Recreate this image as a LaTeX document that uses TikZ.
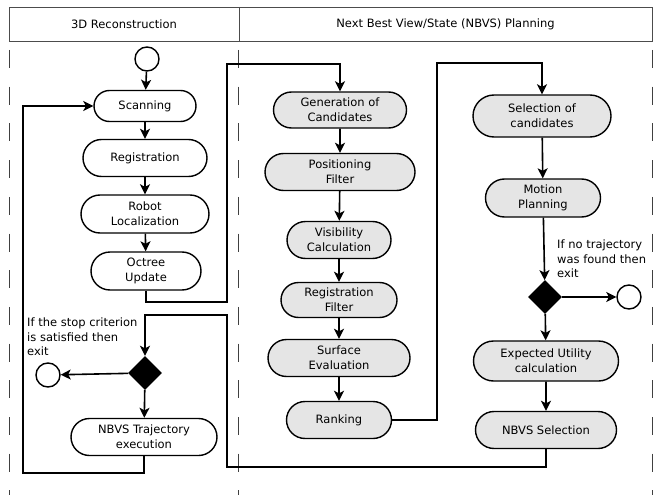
\documentclass[tikz,border=0pt]{standalone}
\usepackage{fontspec}
\setmainfont{DejaVu Sans}
\usetikzlibrary{shapes.geometric,shapes.misc,arrows.meta}
\tikzset{
  act/.style={draw, line width=1.4pt, rounded rectangle, align=center, inner sep=2pt},
  actw/.style={act, fill=white},
  actg/.style={act, fill=black!10},
  endpt/.style={draw, circle, line width=1.4pt, minimum size=24pt, inner sep=0pt, fill=white},
  choice/.style={diamond, aspect=1, fill=black, minimum width=34pt, minimum height=34pt, inner sep=0pt},
  flow/.style={line width=1.6pt, -{Stealth[length=10pt,width=10pt,inset=2.5pt]}},
  flowl/.style={line width=1.6pt},
  lane/.style={draw=black!75, line width=0.9pt, dash pattern=on 18pt off 18.7pt},
  hdr/.style={draw=black!70, line width=0.9pt},
  note/.style={align=left, inner sep=0pt, anchor=west},
  every node/.style={font=\fontsize{11.5}{14.7}\selectfont}
}
\begin{document}
\begin{tikzpicture}[x=1pt,y=-1pt]
\useasboundingbox (0,0) rectangle (664,495);
% header
\draw[hdr] (9,7) rectangle (652,41);
\draw[hdr] (239,7) -- (239,41);
\node (h1) at (124,24) {3D Reconstruction};
\node (h2) at (445.5,24) {Next Best View/State (NBVS) Planning};
% lanes
\draw[lane] (9,50) -- (9,495);
\draw[lane] (238,50) -- (238,495);
\draw[lane] (652,50) -- (652,495);
% left column
\node[endpt] (start) at (147,59) {};
\node[actw, minimum width=106pt, minimum height=31pt] (scan) at (145,106) {Scanning};
\node[actw, minimum width=128pt, minimum height=37pt] (reg) at (145,158) {Registration};
\node[actw, minimum width=132pt, minimum height=38pt] (loc) at (145,214) {Robot\\Localization};
\node[actw, minimum width=114pt, minimum height=38pt] (oct) at (146,271) {Octree\\Update};
\node[choice] (d1) at (145,373) {};
\node[endpt] (exit1) at (48,375) {};
\node[actw, minimum width=150pt, minimum height=37pt] (traj) at (144,437) {NBVS Trajectory\\execution};
\node[note] (n1) at (27,337) {If the stop criterion\\is satisfied then\\exit};
% middle column
\node[actg, minimum width=137pt, minimum height=36pt] (gen) at (340,110) {Generation of\\Candidates};
\node[actg, minimum width=154pt, minimum height=37pt] (pos) at (340,172) {Positioning\\Filter};
\node[actg, minimum width=108pt, minimum height=37pt] (vis) at (339,240) {Visibility\\Calculation};
\node[actg, minimum width=120pt, minimum height=35pt] (regf) at (339,300) {Registration\\Filter};
\node[actg, minimum width=146pt, minimum height=37pt] (surf) at (339,358) {Surface\\Evaluation};
\node[actg, minimum width=109pt, minimum height=37pt] (rank) at (339,420) {Ranking};
% right column
\node[actg, minimum width=142pt, minimum height=42pt] (sel) at (542,116) {Selection of\\candidates};
\node[actg, minimum width=119pt, minimum height=38pt] (mot) at (543,198) {Motion\\Planning};
\node[choice] (d2) at (545,297) {};
\node[endpt] (exit2) at (629,297) {};
\node[actg, minimum width=149pt, minimum height=40pt] (exp) at (546,361) {Expected Utility\\calculation};
\node[actg, minimum width=145pt, minimum height=37pt] (nbvs) at (546,430) {NBVS Selection};
\node[note] (n2) at (557,259) {If no trajectory\\was found then\\exit};
% coordinates
\coordinate (c1) at (146,302);
\coordinate (c2) at (227,302);
\coordinate (c3) at (227,64);
\coordinate (c4) at (340,64);
\coordinate (r1) at (437,420);
\coordinate (r2) at (437,63);
\coordinate (r3) at (542,63);
\coordinate (b1) at (546,467);
\coordinate (b2) at (227,467);
\coordinate (b3) at (227,315);
\coordinate (b4) at (145,315);
\coordinate (t1) at (144,473);
\coordinate (t2) at (23,473);
\coordinate (t3) at (23,106);
% connectors
\draw[flow] (start) -- (scan);
\draw[flow] (scan) -- (reg);
\draw[flow] (reg) -- (loc);
\draw[flow] (loc) -- (oct);
\draw[flow] (oct.south) -- (c1) -- (c2) -- (c3) -- (c4) -- (gen.north);
\draw[flow] (gen) -- (pos);
\draw[flow] (pos) -- (vis);
\draw[flow] (vis) -- (regf);
\draw[flow] (regf) -- (surf);
\draw[flow] (surf) -- (rank);
\draw[flow] (rank.east) -- (r1) -- (r2) -- (r3) -- (sel.north);
\draw[flow] (sel) -- (mot);
\draw[flow] (mot) -- (d2);
\draw[flow] (d2) -- (exit2);
\draw[flow] (d2) -- (exp);
\draw[flow] (exp) -- (nbvs);
\draw[flow] (nbvs.south) -- (b1) -- (b2) -- (b3) -- (b4) -- (d1.north);
\draw[flow] (d1) -- (exit1);
\draw[flow] (d1) -- (traj);
\draw[flow] (traj.south) -- (t1) -- (t2) -- (t3) -- (scan.west);
\end{tikzpicture}
\end{document}
